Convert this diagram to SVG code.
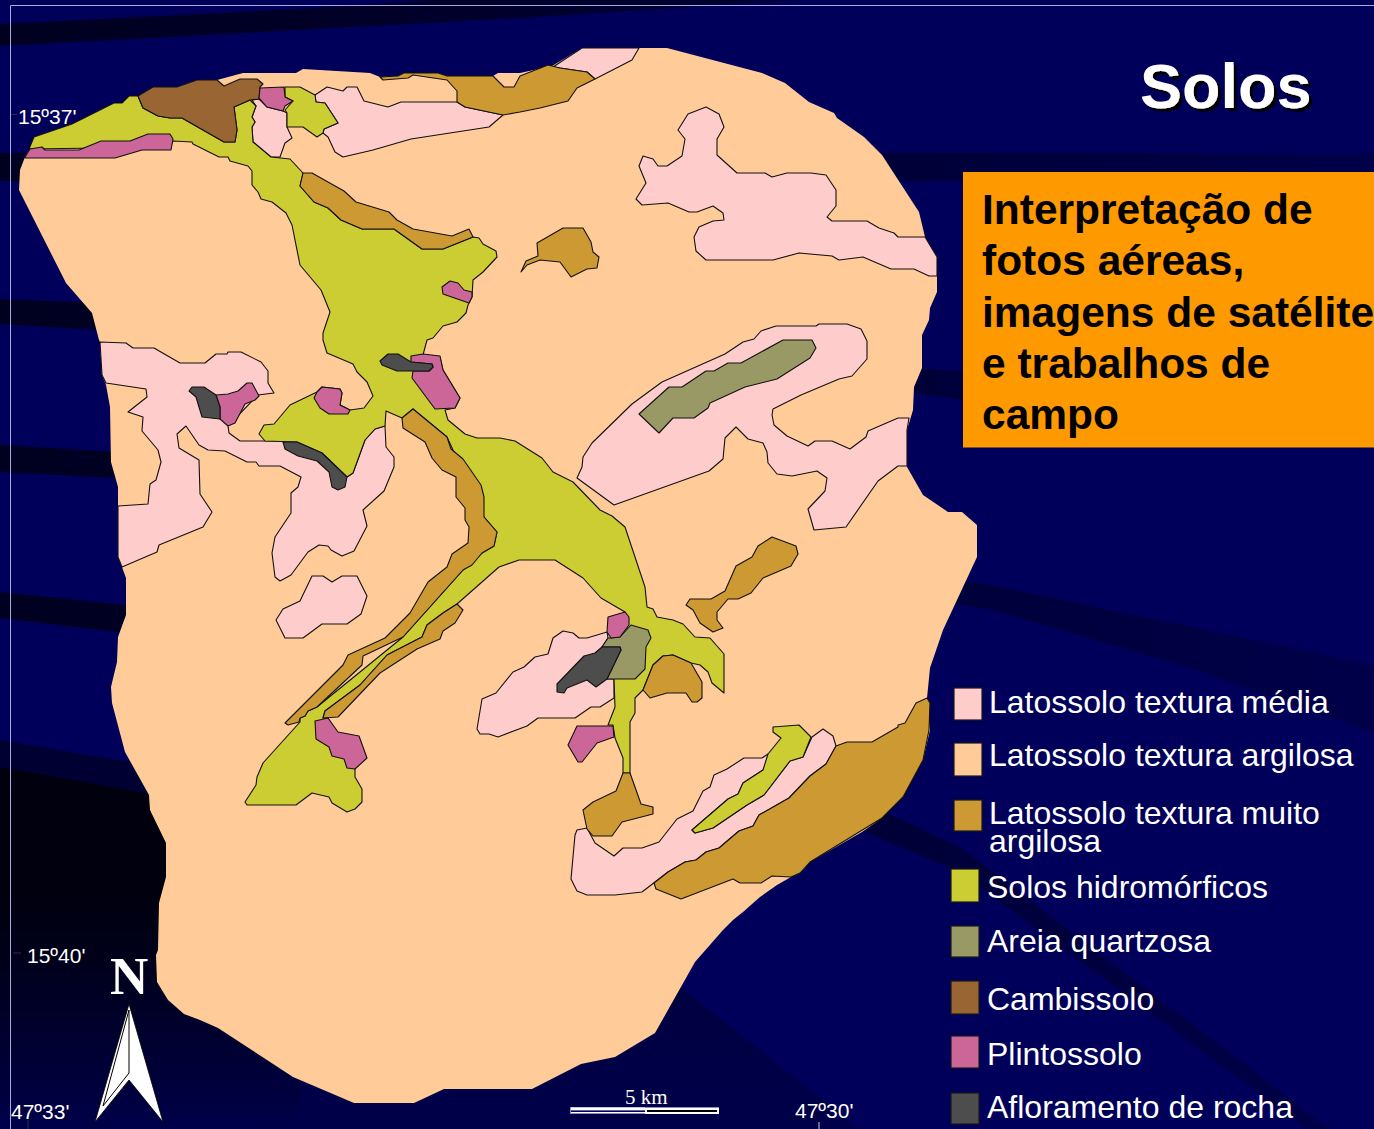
<svg xmlns="http://www.w3.org/2000/svg" width="1374" height="1129" viewBox="0 0 1374 1129">
<style>
.s{stroke:#111;stroke-width:1.1;stroke-linejoin:round}
.lm{fill:#ffcccc}.la{fill:#ffcc99}.lg{fill:#cc9933}.h{fill:#cccc33}.q{fill:#999966}.c{fill:#996633}.p{fill:#cc6699}.r{fill:#4d4d4d}
.b{fill:url(#band)}
text{font-family:"Liberation Sans",Arial,sans-serif}
.leg{font-size:32px;fill:#fff}
.co{font-size:21px;fill:#fff}
.box{font-size:42.5px;font-weight:bold;fill:#000}
.ser{font-family:"Liberation Serif","Times New Roman",serif;fill:#fff}
.sw{stroke:#1a1a1a;stroke-width:1.2}
</style>
<defs>
<linearGradient id="band" gradientUnits="userSpaceOnUse" x1="0" y1="0" x2="1374" y2="0"><stop offset="0" stop-color="#000020"/><stop offset="0.5" stop-color="#000030"/><stop offset="1" stop-color="#00004a"/></linearGradient>
<linearGradient id="f1" gradientUnits="userSpaceOnUse" x1="0" y1="740" x2="0" y2="1129"><stop offset="0" stop-color="#000030"/><stop offset="1" stop-color="#00004a"/></linearGradient>
<linearGradient id="f2" gradientUnits="userSpaceOnUse" x1="0" y1="767" x2="0" y2="1129"><stop offset="0" stop-color="#00000e"/><stop offset="0.35" stop-color="#00000e"/><stop offset="0.65" stop-color="#00000e" stop-opacity="0.55"/><stop offset="1" stop-color="#00000e" stop-opacity="0"/></linearGradient>
<filter id="sh" x="-10%" y="-10%" width="120%" height="130%"><feDropShadow dx="3" dy="3" stdDeviation="0.4" flood-color="#000"/></filter>
</defs>
<rect id="background" width="1374" height="1129" fill="#00005a"/>
<g id="bands">
<polygon class="b" points="0,24 300,9 433,0 800,0 520,18 0,46"/>
<rect class="b" x="0" y="153" width="1374" height="28"/>
<polygon class="b" points="0,299 100,303 915,368 1374,400 1374,420 963,400 915,393 100,330 0,324"/>
<polygon class="b" points="0,445 117,452 990,585 1374,665 1374,733 1197,670 990,609 117,478 0,472"/>
<polygon class="b" points="0,592 126,605 887,813 960,847 1330,1129 1307,1129 960,872 860,830 118,632 0,618"/>
<polygon fill="url(#f1)" points="0,740 130,762 300,800 680,987 760,1050 860,1129 0,1129"/>
<polygon fill="url(#f2)" points="0,767 145,793 300,850 300,1129 0,1129"/>
</g>
<path id="frame" d="M10.5,1129V5.5H1374" fill="none" stroke="#a9a9dc" stroke-width="1"/>
<g id="map">
<polygon id="island" class="la" points="25,157 30,149 34,137 72,124 114,103 122,103 129,96 138,96 153,87 177,87 197,80 217,80 243,73 296,73 303,69 370,73 380,77 398,76 404,73 438,73 447,76 493,76 498,73 520,73 552,66 582,48 667,48 762,73 785,83 809,102 834,113 837,118 864,137 882,155 919,212 925,237 937,257 937,292 930,308 929,320 922,335 922,368 914,387 913,410 907,430 907,467 923,495 948,512 962,512 977,525 977,557 943,630 930,668 927,698 930,730 923,760 903,797 882,818 862,832 810,862 800,873 791,877 777,885 760,897 743,912 733,920 723,930 695,962 655,1033 615,1057 581,1064 532,1089 444,1089 414,1103 354,1103 293,1077 218,1028 200,1020 184,1014 168,1000 157,982 156,955 158,950 159,903 166,877 166,843 150,810 149,795 125,752 112,703 111,687 117,662 118,637 126,615 126,578 122,567 118,557 118,487 111,462 110,407 106,385 102,375 100,342 99,340 92,313 66,283 19,190 20,170"/>
<polygon class="lm s" points="315,95 327,87 343,91 347,87 357,87 364,101 388,107 401,102 457,102 465,107 503,115 489,127 411,139 373,150 343,157 335,152 328,137 323,133 324,129 338,123 325,103 316,102"/>
<polygon class="lm s" points="252,100 259,99 267,107 283,111 287,113 287,127 292,138 285,143 280,157 271,157 253,142 252,127 255,122 252,117 256,106"/>
<polygon class="lm s" points="553,67 582,48 639,48 632,60 595,79 587,72 560,68"/>
<polygon class="lm s" points="706,107 719,114 724,127 717,139 717,155 737,173 765,173 772,177 787,173 811,173 826,175 836,190 836,206 827,217 832,221 867,221 879,228 894,233 898,237 925,237 937,257 937,276 929,276 914,269 891,269 863,257 839,260 832,256 799,253 773,260 706,260 696,251 694,237 699,227 713,221 724,220 723,213 713,206 697,212 689,212 668,203 642,205 636,199 646,183 639,166 643,156 653,159 658,166 667,166 682,156 685,139 678,130 688,114"/>
<polygon class="lm s" points="776,326 816,326 819,324 847,324 861,329 867,341 867,359 852,376 839,379 801,395 773,409 772,415 774,425 787,436 808,446 815,441 832,441 850,449 866,437 868,431 898,418 909,418 907,430 907,466 898,466 878,481 846,527 814,530 808,509 825,491 827,478 817,471 792,476 777,474 768,463 767,452 763,443 748,439 736,427 725,438 723,459 709,471 614,505 577,478 582,467 583,457 592,443 632,404 662,382 725,354 743,342 754,339 761,331"/>
<polygon class="lm s" points="100,342 126,343 133,348 154,348 180,363 205,363 216,354 227,354 228,352 241,352 261,362 268,371 268,383 274,393 258,395 228,426 229,433 240,441 283,441 322,453 347,477 353,473 365,440 375,429 385,426 386,447 394,457 394,467 384,491 363,510 367,526 354,551 342,556 331,550 328,546 319,545 308,552 291,575 280,581 275,577 272,553 275,537 291,513 291,493 298,487 301,477 280,466 259,466 256,462 247,462 225,451 208,450 199,445 186,426 177,434 179,448 199,460 200,494 212,512 203,527 159,545 157,552 122,567 118,557 118,506 148,504 150,484 156,480 161,462 158,450 142,431 143,417 128,412 147,397 146,389 106,383 102,375"/>
<polygon class="lm s" points="312,576 323,576 332,582 342,576 357,576 367,596 361,614 347,624 322,624 303,638 285,638 276,620 283,609 300,601"/>
<polygon class="lm s" points="607,632 587,638 579,638 573,633 563,631 553,638 548,654 535,657 524,667 513,672 496,693 482,699 477,729 480,734 489,734 498,737 527,726 538,718 575,718 591,707 600,707 614,698 614,679 607,679 602,647 608,638"/>
<polygon class="lm s" points="575,835 577,830 587,828 595,843 614,856 623,848 642,848 659,842 677,819 693,811 703,791 710,787 714,775 727,769 744,758 762,758 768,754 771,757 763,770 743,783 738,794 728,799 692,830 695,833 713,828 747,805 764,795 790,761 803,757 812,737 823,729 833,736 836,746 826,764 810,776 789,798 759,815 753,826 739,831 719,848 706,852 696,860 685,862 668,872 642,892 615,895 587,895 577,891 571,879"/>
<polygon class="h s" points="29,149 34,137 72,124 114,103 122,103 129,96 138,96 143,108 158,116 170,118 182,118 224,142 235,142 237,130 234,107 250,100 256,106 252,117 255,122 252,127 253,142 271,157 290,159 303,173 300,186 314,202 328,208 341,220 362,229 394,229 422,249 443,249 473,237 479,238 483,244 496,251 497,257 483,272 473,280 472,297 468,305 466,313 457,322 443,326 433,338 427,340 423,355 440,357 443,370 460,398 455,408 445,410 448,420 465,434 477,438 500,438 515,441 542,458 553,472 573,482 600,510 612,516 625,527 645,587 647,607 653,609 657,617 673,620 683,624 695,637 710,638 724,654 724,693 712,683 708,672 700,665 691,663 673,655 663,656 653,665 643,690 635,698 635,713 630,722 630,773 623,773 623,758 615,738 613,725 608,725 615,707 614,679 620,640 625,612 601,598 583,578 555,560 519,560 499,567 457,604 443,613 427,625 422,637 387,655 360,685 325,711 323,718 328,718 355,769 355,777 362,789 362,802 355,809 347,812 332,803 329,797 312,793 296,805 247,805 245,802 256,785 257,777 263,763 300,722 300,718 305,716 308,711 317,707 403,637 463,570 482,553 494,546 497,532 484,517 447,437 413,409 402,418 386,411 385,426 375,429 365,440 353,473 347,477 322,453 297,442 265,441 259,434 264,425 274,424 290,405 317,392 322,387 340,389 342,393 340,405 350,410 364,408 373,396 367,382 357,372 353,364 327,353 323,340 323,333 330,312 321,290 300,265 292,225 286,213 272,202 261,199 258,192 252,185 252,171 248,166 230,161 228,157 219,157 193,144 192,142 173,141 171,145 100,148"/>
<polygon class="h s" points="285,87 300,87 315,95 316,102 325,103 338,123 324,129 323,133 317,137 303,127 287,127 287,113 285,110 293,101 285,97"/>
<polygon class="h s" points="773,727 799,725 811,737 803,757 790,761 764,795 747,805 713,828 695,833 692,830 728,799 738,794 743,783 763,770 768,754 781,738 773,732"/>
<polygon class="c s" points="138,96 153,87 177,87 197,80 217,80 224,86 240,79 257,79 263,84 260,87 259,99 250,100 234,107 237,130 235,142 224,142 182,118 170,118 158,116 143,108"/>
<polygon class="p s" points="25,157 30,149 42,147 45,150 79,150 101,141 130,141 148,134 170,134 173,139 171,150 142,150 115,158 25,158"/>
<polygon class="p s" points="260,88 284,87 285,97 293,101 285,106 283,111 267,107 259,98"/>
<polygon class="lg s" points="380,77 398,76 404,73 438,73 447,76 493,76 504,87 514,87 520,76 548,65 560,68 587,72 595,79 577,88 568,101 540,108 520,112 503,115 465,107 457,102 457,91 447,80 413,75 408,78 383,80"/>
<polygon class="lg s" points="303,173 312,173 344,191 356,202 389,212 397,220 413,229 452,236 469,229 473,237 443,249 422,249 394,229 362,229 341,220 328,208 314,202 300,186"/>
<polygon class="lg s" points="521,272 526,261 538,256 537,243 563,228 583,228 591,242 593,252 599,257 597,268 587,269 571,277 560,262 540,260 527,265"/>
<polygon class="lg s" points="413,409 447,437 451,449 463,459 481,485 484,497 484,517 497,532 494,546 482,553 472,565 463,570 403,637 363,656 362,665 317,707 308,711 305,716 300,718 299,722 288,725 285,723 343,665 348,655 385,638 410,613 428,582 447,567 452,554 468,543 469,527 465,520 465,508 456,497 456,477 442,470 432,458 425,442 403,428 402,418"/>
<polygon class="lg s" points="457,604 463,610 455,623 443,631 440,639 417,649 380,673 338,717 323,718 325,711 360,685 387,655 422,637 427,625 443,613"/>
<polygon class="lg s" points="772,537 796,546 798,554 791,566 763,578 751,593 738,599 728,599 717,612 717,620 723,628 713,632 700,623 693,610 686,605 690,599 711,599 725,591 736,566 752,557 758,546"/>
<polygon class="lg s" points="663,656 673,655 691,663 702,682 702,698 697,702 692,702 686,693 667,693 650,698 643,690 653,665"/>
<polygon class="lg s" points="623,773 630,773 641,804 653,807 653,814 622,822 612,836 593,836 587,829 583,810 593,802 616,791"/>
<polygon class="lg s" points="927,698 930,703 929,730 923,760 903,797 882,818 810,862 800,873 791,877 772,876 761,883 740,883 733,879 681,899 656,889 654,883 668,872 685,862 696,860 706,852 719,848 739,831 753,826 759,815 789,798 810,776 826,764 836,746 847,742 872,742 898,727 898,725 905,723 916,703"/>
<polygon class="q s" points="783,340 812,340 816,348 810,358 777,379 745,387 710,403 708,408 694,418 673,418 659,433 639,414 669,387 682,387 706,371 714,371 728,363 741,363"/>
<polygon class="q s" points="631,625 648,630 651,638 646,647 645,669 635,679 607,679 621,650 620,647 602,647 608,638 611,638 620,637"/>
<polygon class="p s" points="608,617 625,612 629,617 629,625 620,637 611,638 607,632"/>
<polygon class="r s" points="602,647 620,647 621,650 607,679 596,687 587,680 567,688 564,693 557,692 557,684 584,656 595,653"/>
<polygon class="p s" points="577,726 613,726 614,737 597,743 582,762 578,762 568,745"/>
<polygon class="p s" points="315,721 328,718 338,732 359,736 367,758 355,769 347,768 344,759 332,756 329,747 316,739"/>
<polygon class="p s" points="442,287 450,281 458,283 464,290 472,292 472,297 469,303 443,294"/>
<polygon class="p s" points="322,387 340,389 342,393 340,405 350,410 348,414 329,414 320,408 314,398 317,392"/>
<polygon class="p s" points="411,356 423,354 440,356 443,370 460,398 455,408 435,409 412,378 413,371 429,371 433,367 432,364 411,362"/>
<polygon class="r s" points="380,361 388,354 398,354 411,362 432,364 433,367 429,371 397,371 382,365"/>
<polygon class="p s" points="216,395 228,394 238,391 247,383 252,383 259,396 255,400 245,404 235,423 228,426 220,419 220,407"/>
<polygon class="r s" points="189,391 192,387 204,387 216,395 220,407 220,419 202,417 196,397"/>
<polygon class="r s" points="283,442 297,442 322,453 347,477 345,487 338,490 332,487 329,472 317,461 298,456 285,449"/>
</g>
<g id="north" fill="#fff">
<text class="ser" x="110" y="994" font-size="53" font-weight="bold">N</text>
<polygon points="129,1004 163,1122 129,1080 95,1122" stroke="#000" stroke-width="0.8"/>
<polygon points="129,1010 129,1073 103,1106" fill="#fff" stroke="#000" stroke-width="1"/>
</g>
<g id="scale">
<text class="ser" x="625" y="1104" font-size="21">5 km</text>
<rect x="570" y="1107" width="149" height="7" fill="#8c8cbe"/>
<rect x="571" y="1107.5" width="74" height="3" fill="#fff"/>
<rect x="571" y="1110.5" width="74" height="1.6" fill="#00005a"/>
<rect x="571" y="1112" width="74" height="1" fill="#fff"/>
<rect x="645" y="1108" width="74" height="6" fill="#fff"/>
<rect x="647" y="1110" width="70" height="2" fill="#000"/>
</g>
<g id="coords">
<path d="M11,114.5H17M13,953H21M28,1120V1129" stroke="#2a2a55" stroke-width="1" fill="none"/>
<path d="M819,1122V1129" stroke="#ccc" stroke-width="1" fill="none"/>
<text class="co" x="18" y="124">15º37'</text>
<text class="co" x="27" y="963">15º40'</text>
<text class="co" x="11" y="1119">47º33'</text>
<text class="co" x="795" y="1118">47º30'</text>
</g>
<g id="title"><text x="1140" y="108" font-size="63" font-weight="bold" fill="#fff" filter="url(#sh)">Solos</text></g>
<g id="infobox">
<rect x="963" y="172" width="411" height="275.500" fill="#ff9900"/>
<text class="box" x="982" y="224">Interpretação de</text>
<text class="box" x="982" y="275">fotos aéreas,</text>
<text class="box" x="982" y="327">imagens de satélite</text>
<text class="box" x="982" y="378">e trabalhos de</text>
<text class="box" x="982" y="429">campo</text>
</g>
<g id="legend">
<g id="leg-latossolo-media"><rect class="lm sw" x="954" y="688" width="28" height="32"/><text class="leg" x="989" y="713">Latossolo textura média</text></g>
<g id="leg-latossolo-argilosa"><rect class="la sw" x="954" y="743" width="28" height="33"/><text class="leg" x="989" y="766">Latossolo textura argilosa</text></g>
<g id="leg-latossolo-muito"><rect class="lg sw" x="954" y="800" width="28" height="31"/><text class="leg" x="989" y="824">Latossolo textura muito</text><text class="leg" x="989" y="852">argilosa</text></g>
<g id="leg-hidromorficos"><rect class="h sw" x="951" y="869" width="28" height="33"/><text class="leg" x="987" y="898">Solos hidromórficos</text></g>
<g id="leg-areia"><rect class="q sw" x="951" y="926" width="28" height="31"/><text class="leg" x="987" y="952">Areia quartzosa</text></g>
<g id="leg-cambissolo"><rect class="c sw" x="951" y="981" width="28" height="33"/><text class="leg" x="987" y="1010">Cambissolo</text></g>
<g id="leg-plintossolo"><rect class="p sw" x="951" y="1036" width="28" height="32"/><text class="leg" x="987" y="1065">Plintossolo</text></g>
<g id="leg-afloramento"><rect class="r sw" x="951" y="1093" width="28" height="31"/><text class="leg" x="987" y="1118">Afloramento de rocha</text></g>
</g>
</svg>
